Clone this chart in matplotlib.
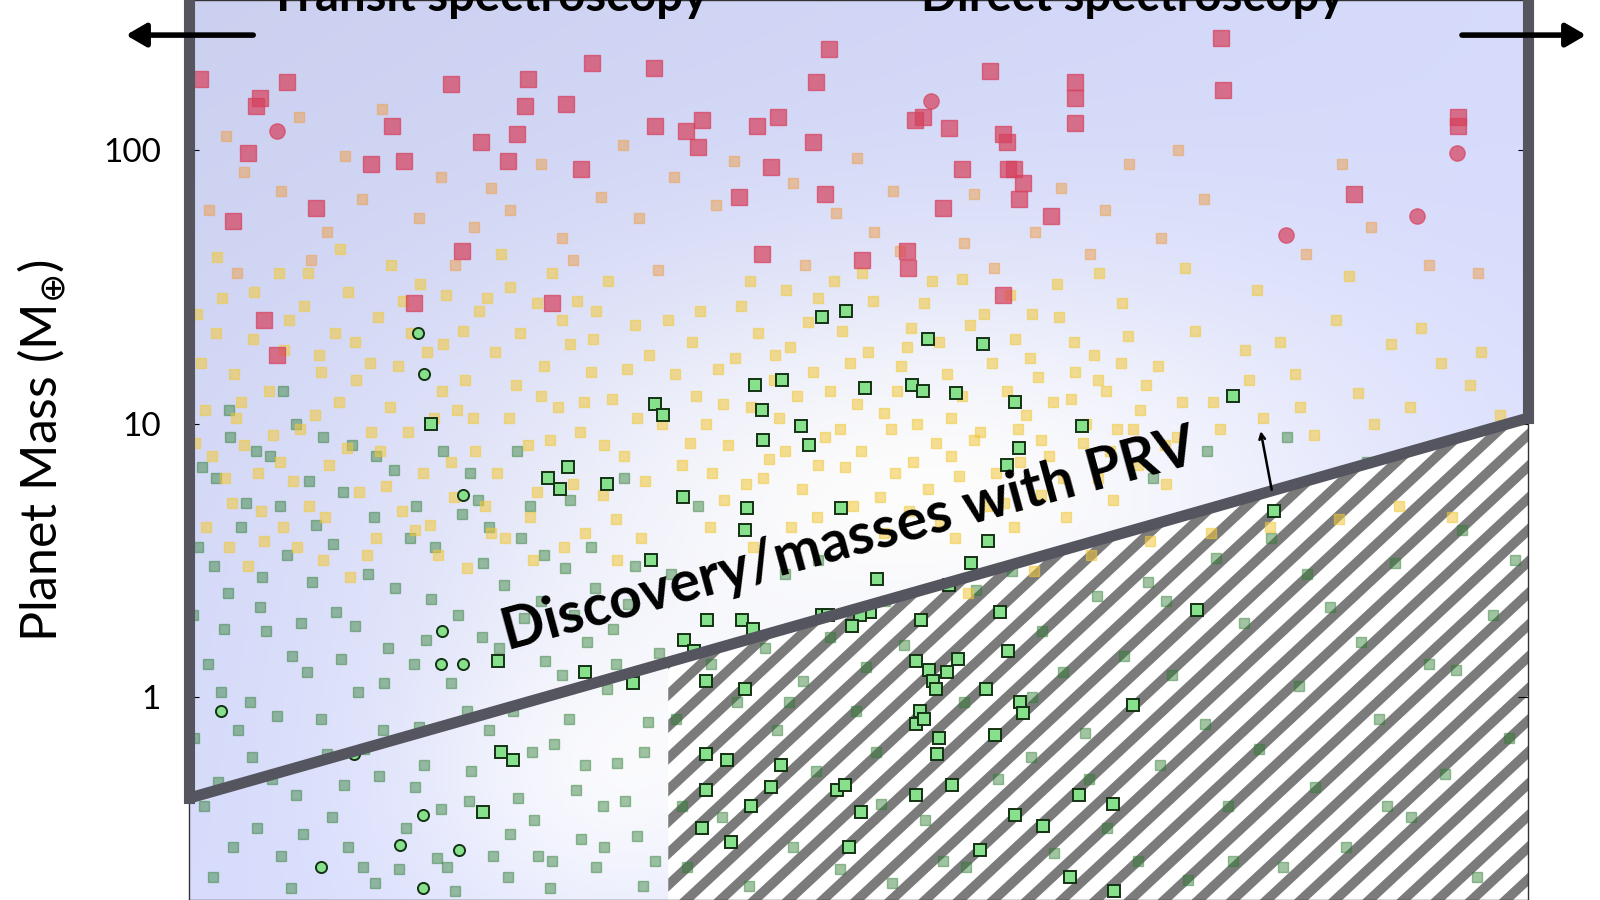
import numpy as np
import matplotlib
matplotlib.use("Agg")
import matplotlib.pyplot as plt
from matplotlib.patches import Polygon
from matplotlib.lines import Line2D

plt.rcParams['font.family'] = ['Lato', 'DejaVu Sans']

# x: arbitrary horizontal coordinate (0-100), y: log10 planet mass (Earth masses)
green_box = [(34.8,1.07),(35.4,1.03),(42.3,1.14),(44.3,1.16),(42.8,1.05),(42.9,0.94),(45.7,0.99),(46.3,0.92),
 (50.5,1.13),(54.0,1.14),(54.8,1.12),(57.3,1.11),(55.2,1.31),(59.3,1.29),(47.3,1.39),(49.1,1.41),(61.7,1.08),
 (62.0,0.91),(61.1,0.85),(66.7,0.99),(78.0,1.10),(81.0,0.68),(48.7,0.69),(41.7,0.69),(41.5,0.61),(36.9,0.73),
 (31.2,0.78),(28.3,0.84),(26.8,0.80),(27.7,0.76),(18.1,1.00),(34.5,0.50),(59.7,0.57),(58.4,0.49),(56.8,0.41),
 (51.4,0.43),(50.9,0.31),(50.1,0.30),(49.5,0.26),(47.3,0.30),(47.7,0.30),(38.7,0.28),(41.3,0.28),(42.1,0.25),
 (37.0,0.21),(37.7,0.17),(29.6,0.09),(33.2,0.05),(23.1,0.13),(60.6,0.31),(75.3,0.32),(54.7,0.28),(54.3,0.13),
 (57.4,0.14),(56.6,0.09),(55.3,0.10),(55.6,0.06),(55.8,0.03),(59.5,0.03),(61.2,0.17),(62.1,-0.02),(62.3,-0.06),
 (54.6,-0.05),(54.3,-0.10),(54.9,-0.08),(56.0,-0.15),(55.9,-0.21),(60.2,-0.14),(57.0,-0.32),(54.3,-0.36),
 (70.5,-0.03),(66.5,-0.36),(69.0,-0.39),(61.7,-0.43),(63.8,-0.47),(59.1,-0.56),(65.8,-0.66),(69.1,-0.71),
 (49.3,-0.55),(40.5,-0.53),(38.3,-0.48),(42.0,-0.40),(43.5,-0.33),(44.2,-0.25),(40.2,-0.23),(38.6,-0.21),
 (38.6,-0.34),(38.6,0.06),(41.5,0.03),(48.4,-0.34),(49.0,-0.32),(50.2,-0.42),(23.3,-0.20),(24.2,-0.23),(22.0,-0.42)]
green_circ = [(17.1,1.33),(17.6,1.18),(20.5,0.74),(18.9,0.24),(18.8,0.12),(20.5,0.12),(2.4,-0.05),(12.3,-0.21),
 (17.5,-0.43),(15.8,-0.54),(20.2,-0.56),(9.9,-0.62),(17.5,-0.70)]
red_sq = [(0.8,2.26),(5.3,2.19),(5.0,2.16),(7.3,2.25),(4.4,1.99),(3.3,1.74),(5.6,1.38),(6.6,1.25),(15.2,2.09),
 (13.6,1.95),(16.1,1.96),(19.6,2.24),(21.8,2.03),(23.8,1.96),(24.5,2.06),(25.3,2.26),(25.1,2.16),(28.2,2.17),
 (30.1,2.32),(29.3,1.93),(34.7,2.30),(34.8,2.09),(37.1,2.07),(38.0,2.01),(38.3,2.11),(42.4,2.09),(44.0,2.12),
 (43.5,1.94),(41.1,1.83),(46.8,2.25),(47.8,2.37),(47.5,1.84),(46.6,2.03),(42.8,1.62),(50.3,1.60),(53.6,1.63),
 (53.7,1.57),(54.2,2.11),(54.8,2.12),(56.3,1.79),(56.8,2.08),(57.7,1.93),(59.8,2.29),(60.8,2.06),(61.1,2.03),
 (61.2,1.93),(61.6,1.93),(62.0,1.82),(62.3,1.88),(64.4,1.76),(60.8,1.47),(66.2,2.25),(66.2,2.19),(66.2,2.10),
 (77.1,2.41),(77.2,2.22),(87.0,1.84),(94.8,2.12),(94.8,2.09),(9.5,1.79),(16.8,1.44),(20.4,1.63),(27.1,1.44)]
red_circ = [(6.6,2.07),(55.4,2.18),(81.9,1.69),(91.7,1.76),(94.7,1.99)]
orange_sq = [(1.5,1.78),(2.8,2.05),(4.1,1.92),(6.9,1.85),(8.2,2.12),(10.3,1.70),(11.7,1.98),(12.9,1.82),(14.4,2.15),
 (17.2,1.75),(18.8,1.90),(21.3,1.72),(22.6,1.86),(24.0,1.78),(26.3,1.95),(27.9,1.68),(30.8,1.83),(32.4,2.02),
 (33.6,1.75),(36.2,1.90),(39.4,1.80),(40.7,1.96),(45.1,1.88),(48.3,1.77),(49.9,1.97),(51.2,1.70),(52.6,1.85),
 (53.1,1.63),(57.9,1.66),(58.6,1.84),(63.2,1.70),(65.1,1.86),(68.4,1.78),(70.2,1.95),(72.6,1.68),(73.9,2.00),
 (75.8,1.82),(83.4,1.62),(86.1,1.95),(88.3,1.72),(92.6,1.58),(96.3,1.55),(3.6,1.55),(9.1,1.60),(19.9,1.58),
 (28.7,1.60),(35.0,1.56),(46.0,1.58),(60.1,1.57),(67.3,1.62)]
yellow_sq = [(0.9,1.22),(1.7,0.88),(2.5,1.46),(3.2,0.71),(3.9,1.08),(4.8,1.31),(5.6,0.57),(6.3,0.96),(7.1,1.27),
 (7.8,0.79),(8.6,1.43),(9.4,1.03),(10.2,0.66),(10.9,1.33),(11.8,0.91),(12.5,1.16),(13.3,0.52),(14.1,1.39),
 (14.7,0.77),(15.6,1.21),(16.4,0.97),(17.3,1.51),(18.0,0.63),(18.9,1.12),(19.6,0.86),(20.5,1.34),(21.2,1.02),
 (22.1,0.70),(22.9,1.26),(23.6,0.58),(24.4,1.14),(25.3,0.92),(26.0,1.44),(26.8,0.81),(27.6,1.06),(28.5,1.29),
 (29.2,0.97),(30.0,1.19),(30.9,0.74),(31.6,1.09),(32.5,0.88),(33.3,1.36),(34.1,0.79),(2.1,1.61),(6.7,1.55),
 (11.3,1.64),(15.1,1.58),(19.2,1.47),(23.3,1.62),(27.1,1.55),(31.3,1.52),(1.3,0.62),(4.4,0.48),(8.1,0.55),
 (12.0,0.44),(16.9,0.61),(20.8,0.47),(25.7,0.50),(29.6,0.60),(33.8,0.58),(36.3,1.18),(37.4,0.93),(38.2,1.41),
 (39.1,0.82),(39.9,1.07),(40.8,1.24),(41.6,0.78),(42.5,1.33),(43.3,0.87),(44.1,1.02),(44.9,1.28),(45.8,0.76),
 (46.6,1.19),(47.5,0.95),(48.2,1.52),(49.0,0.84),(49.9,1.07),(50.7,1.26),(51.6,0.73),(52.4,0.98),(53.2,1.21),
 (54.1,0.86),(54.9,1.44),(55.8,0.93),(56.6,1.18),(57.5,0.81),(58.3,1.36),(59.1,0.97),(60.0,1.22),(60.9,0.71),
 (61.7,1.31),(62.5,1.03),(63.4,1.17),(64.2,0.88),(65.0,1.39),(65.9,1.09),(66.8,0.93),(67.6,1.25),(68.5,1.12),
 (69.3,0.98),(70.1,1.32),(71.0,1.05),(72.4,1.21),(73.8,0.95),(75.1,1.34),(76.5,1.08),(78.9,1.27),(80.2,1.02),
 (82.6,1.18),(84.0,0.96),(85.7,1.38),(87.3,1.11),(89.8,1.29),(91.2,1.06),(93.5,1.22),(95.7,1.14),(97.9,1.03),
 (38.9,0.62),(42.1,0.55),(46.9,0.66),(51.9,0.60),(56.1,0.64),(59.7,0.70),(63.6,0.74),(67.9,0.80),(44.6,1.49),
 (50.3,1.55),(53.9,1.35),(57.7,1.53),(61.3,1.47),(64.8,1.51),(69.7,1.44),(74.4,1.57),(79.8,1.49),(86.6,1.54),
 (58.2,0.38),(63.1,0.46),(67.4,0.52),(71.8,0.57),(76.3,0.60),(80.7,0.62),(85.9,0.65),(90.4,0.70),(94.3,0.66),
 (3.5,1.02),(9.9,1.19),(13.6,0.97),(17.8,1.26),(21.7,1.41),(26.5,1.21),(30.4,1.41),(35.3,1.00),(37.9,1.10),
 (43.7,1.16),(48.8,1.34),(52.9,1.12),(56.9,1.02),(62.1,0.86),(66.2,1.19),(70.9,0.85),(0.5,0.93),(5.2,0.82)]
yellow_sq2 = [(1.2,1.05),(2.0,1.33),(2.7,0.80),(3.4,1.18),(4.1,0.92),(4.9,1.48),(5.4,0.68),(6.0,1.12),(6.8,0.86),
 (7.5,1.38),(8.3,0.98),(9.0,0.70),(9.7,1.25),(10.5,0.85),(11.2,1.08),(11.9,1.48),(12.7,0.75),(13.5,1.22),
 (14.3,0.90),(15.0,1.06),(15.9,0.68),(16.6,1.33),(17.5,0.82),(18.3,1.02),(19.0,1.29),(19.8,0.73),(20.6,1.16),
 (21.4,0.90),(22.3,1.46),(23.0,0.82),(23.9,1.02),(24.7,1.33),(25.5,0.66),(26.3,1.10),(27.0,0.94),(27.9,1.38),
 (28.7,0.78),(29.5,1.08),(30.2,1.31),(31.0,0.92),(31.9,0.65),(32.7,1.20),(33.5,1.02),(34.4,1.25),(0.6,1.40),
 (3.0,0.55),(7.0,0.62),(10.0,0.50),(14.0,0.58),(18.6,0.52),(22.6,0.60),(28.0,0.55),(32.0,0.50),(36.8,0.85),
 (37.6,1.30),(38.6,1.00),(39.5,1.20),(40.3,0.92),(41.2,1.43),(42.0,1.06),(42.9,0.80),(43.8,1.25),(44.5,0.90),
 (45.4,1.10),(46.2,1.37),(47.0,0.85),(47.9,1.12),(48.6,0.98),(49.4,1.22),(50.2,0.90),(51.1,1.45),(51.9,1.04),
 (52.7,0.82),(53.6,1.28),(54.4,1.00),(55.2,0.76),(56.0,1.30),(56.9,0.88),(57.7,1.10),(58.6,0.94),(59.4,1.40),
 (60.3,0.82),(61.1,1.12),(61.9,0.98),(62.8,1.24),(63.6,0.94),(64.5,1.08),(65.3,0.80),(66.1,1.30),(67.0,1.00),
 (67.9,1.16),(68.8,0.90),(69.6,1.22),(70.5,0.98),(71.5,1.14),(72.9,0.92),(74.2,1.08),(77.0,0.98),(79.2,1.16),
 (81.5,1.30),(83.0,1.06),(88.5,1.00),(92.0,1.35),(96.5,1.26),(40.0,0.72),(45.0,0.62),(49.6,0.70),(53.8,0.68),
 (57.2,0.58),(61.6,0.62),(65.5,0.66),(69.0,0.72),(73.0,0.78),(8.9,1.55),(16.0,1.45),(24.0,1.50),(29.0,1.45),
 (41.9,1.52),(47.0,1.46),(55.5,1.52),(63.0,1.40),(68.0,1.55),(12.4,1.30),(20.0,1.05),(26.0,0.75),(35.8,1.38)]
green_sq = [(0.7,0.55),(1.4,0.12),(2.2,-0.31),(2.9,0.38),(3.7,-0.12),(4.3,0.71),(5.1,-0.48),(5.8,0.24),(6.6,-0.07),
 (7.3,0.52),(8.0,-0.36),(8.8,0.09),(9.5,0.63),(10.3,-0.21),(11.0,0.31),(11.9,-0.55),(12.6,0.02),(13.4,0.45),
 (14.2,-0.29),(14.9,0.18),(15.7,-0.63),(16.5,0.58),(17.2,-0.11),(18.1,0.36),(18.8,-0.41),(19.6,0.05),(20.4,0.67),
 (21.1,-0.27),(21.9,0.22),(22.7,-0.58),(23.5,0.41),(24.2,-0.05),(25.0,0.29),(25.8,-0.45),(26.6,0.13),(27.3,-0.17),
 (28.1,0.47),(28.9,-0.34),(29.7,0.20),(30.4,-0.62),(31.2,0.03),(32.0,-0.24),(32.8,0.34),(33.5,-0.51),(34.3,-0.09),
 (35.1,0.16),(1.0,0.84),(3.1,0.95),(6.1,0.88),(9.0,0.79),(12.2,0.92),(15.3,0.83),(19.0,0.90),(22.4,0.62),
 (25.5,0.70),(1.8,-0.66),(4.7,-0.22),(7.6,-0.70),(10.7,-0.44),(13.9,-0.68),(16.9,-0.33),(19.9,-0.71),(23.8,-0.66),
 (27.0,-0.70),(30.9,-0.40),(33.9,-0.69),(2.6,0.25),(5.5,0.44),(8.4,0.27),(11.4,0.14),(14.6,0.05),(17.7,0.21),
 (20.8,-0.05),(24.6,-0.37),(28.4,-0.08),(31.7,0.25),(0.4,-0.15),(6.9,-0.58),(13.1,-0.19),(18.5,-0.59),(26.1,-0.58),
 (29.3,-0.52),(36.4,-0.08),(37.2,-0.62),(39.0,0.12),(39.8,-0.44),(40.9,-0.02),(41.8,-0.69),(43.0,0.18),(43.9,-0.12),
 (45.1,-0.55),(45.9,0.06),(46.8,-0.27),(47.9,0.22),(48.6,-0.63),(49.8,-0.05),(50.6,0.11),(51.7,-0.39),(52.5,-0.68),
 (53.4,0.19),(55.0,-0.45),(56.3,-0.60),(57.9,-0.02),(58.8,0.39),(60.4,-0.30),(61.5,0.46),(62.9,-0.22),(63.7,0.24),
 (64.6,-0.57),(65.3,0.09),(66.9,-0.13),(67.8,0.37),(68.6,-0.48),(69.8,0.15),(70.9,-0.60),(71.6,0.42),(72.5,-0.25),
 (73.4,0.08),(74.6,-0.67),(75.9,-0.10),(76.7,0.51),(77.6,-0.40),(78.8,0.27),(79.9,-0.19),(80.8,0.58),(81.7,-0.62),
 (82.9,0.04),(84.1,-0.33),(85.2,0.33),(86.4,-0.55),(87.5,0.20),(88.9,-0.08),(90.1,0.49),(91.3,-0.44),(92.6,0.12),
 (93.8,-0.28),(95.1,0.61),(96.2,-0.66),(97.4,0.30),(98.6,-0.15),(76.0,0.90),(82.0,0.95),(88.0,0.86),(72.0,0.80),
 (47.0,0.50),(44.5,0.45),(52.0,0.35),(36.0,0.45),(38.0,0.70),(30.0,0.55),(26.5,0.52),(22.0,0.49)]
green_sq2 = [(0.3,0.30),(1.1,-0.40),(1.9,0.48),(2.4,0.02),(3.3,-0.55),(3.9,0.62),(4.6,-0.02),(5.3,0.33),(6.2,-0.30),
 (6.8,0.70),(7.7,0.15),(8.5,-0.50),(9.2,0.42),(9.9,-0.08),(10.8,0.56),(11.6,-0.32),(12.4,0.26),(13.0,-0.62),
 (13.8,0.66),(14.5,-0.12),(15.4,0.40),(16.2,-0.48),(16.8,0.12),(17.6,-0.25),(18.4,0.55),(19.3,-0.62),(20.1,0.30),
 (20.9,-0.38),(21.6,0.72),(22.4,-0.12),(23.2,0.18),(24.0,-0.50),(24.8,0.58),(25.6,-0.20),(26.3,0.35),(27.1,-0.60),
 (27.9,0.08),(28.8,0.30),(29.6,-0.25),(30.3,0.40),(31.0,-0.55),(31.9,0.12),(32.6,-0.38),(33.3,0.48),(34.0,-0.20),
 (34.8,-0.60),(2.0,0.80),(5.0,0.90),(8.0,1.00),(11.5,0.75),(14.0,0.88),(17.0,0.70),(21.0,0.82),(24.5,0.90),
 (28.5,0.72),(32.5,0.80),(3.0,1.05),(7.0,1.12),(10.0,0.95),(36.8,-0.40),(44.8,-0.02),(51.3,-0.20),(58.0,-0.62),
 (63.0,0.00),(67.2,-0.30),(73.0,0.35),(78.0,-0.60),(83.5,0.45),(89.5,-0.40),(94.6,0.10),(99.0,0.50)]

MIN_M, MAX_M = 0.181, 354.0
line_x = [0, 100]
line_logm = [-0.37, 1.02]
hatch_x0 = 35.8

def unz(pts):
    a = np.array(pts, float)
    return a[:, 0], 10 ** a[:, 1]

fig = plt.figure(figsize=(16, 9), dpi=100)
ax = fig.add_axes([0.118, 0.0, 0.837, 1.0])
ax.set_xlim(0, 100)
ax.set_yscale('log')
ax.set_ylim(MIN_M, MAX_M)

# background gradient
gx, gy = np.meshgrid(np.linspace(0, 1, 300), np.linspace(0, 1, 200))
white = np.exp(-((gx - 0.55) ** 2 / 0.12 + (gy - 0.45) ** 2 / 0.07))
white = np.clip(white + 0.75 * np.exp(-((gx - 0.32) ** 2 / 0.03 + (gy - 0.12) ** 2 / 0.04)), 0, 1)
lav = np.array([0.84, 0.86, 0.99])
img = lav[None, None, :] * (1 - white[..., None]) + white[..., None] * 1.0
img = img * (1 - 0.05 * gy[..., None] * (1 - gx[..., None]))
ax.imshow(np.clip(img, 0, 1), extent=[0, 1, 0, 1], transform=ax.transAxes, origin='lower', aspect='auto', zorder=0)

# hatched region
lm = lambda x: 10 ** (np.interp(x, line_x, line_logm))
poly = Polygon([(hatch_x0, lm(hatch_x0)), (100, lm(100)), (100, MIN_M), (hatch_x0, MIN_M)],
               closed=True, facecolor='white', edgecolor='none', zorder=1)
ax.add_patch(poly)
ratio = 1312 / 882 * 0.93
for c in np.arange(-2.0, 1.2, 0.0255):
    ln = Line2D([c, c + 1.0], [0, ratio], transform=ax.transAxes, color='#7b7b7b', lw=7, zorder=1.5)
    ln.set_clip_path(poly)
    ax.add_line(ln)

kw = dict(marker='s', linestyle='none')
for g in (green_sq, green_sq2):
    x, y = unz(g); ax.plot(x, y, ms=6.5, color='#2e7d32', alpha=0.45, zorder=2, **kw)
for g in (yellow_sq, yellow_sq2):
    x, y = unz(g); ax.plot(x, y, ms=7.5, color='#f2c83a', alpha=0.55, zorder=2, **kw)
x, y = unz(orange_sq); ax.plot(x, y, ms=7.5, color='#ee9f4a', alpha=0.5, zorder=2, **kw)
x, y = unz(red_sq); ax.plot(x, y, ms=11, color='#d6405c', alpha=0.7, zorder=3, **kw)
x, y = unz(red_circ); ax.plot(x, y, 'o', ms=11, color='#d6405c', alpha=0.7, zorder=3)
x, y = unz(green_box); ax.plot(x, y, ms=8, mfc='#86e08c', mec='#143214', mew=1.4, zorder=4, **kw)
x, y = unz(green_circ); ax.plot(x, y, 'o', ms=8, mfc='#86e08c', mec='#143214', mew=1.4, zorder=4)

# boundary
lc = '#55555f'
ax.plot(line_x, 10 ** np.array(line_logm), color=lc, lw=8, solid_capstyle='butt', zorder=5)
ax.plot([0, 0], [10 ** line_logm[0], MAX_M], color=lc, lw=8, zorder=5, clip_on=False)
ax.plot([100, 100], [10 ** line_logm[1], MAX_M], color=lc, lw=8, zorder=5, clip_on=False)

ax.text(49.3, 3.75, 'Discovery/masses with PRV', rotation=15.2, ha='center', va='center',
        fontsize=41, fontweight='bold', color='black', zorder=6, rotation_mode='anchor')
ax.annotate('', xy=(80.0, 9.6), xytext=(80.9, 5.6),
            arrowprops=dict(arrowstyle='->', color='black', lw=1.8), zorder=6)

ax.set_yticks([1, 10, 100])
ax.set_yticklabels(['1', '10', '100'], fontsize=24)
ax.yaxis.set_minor_locator(matplotlib.ticker.NullLocator())
ax.set_xticks([])
ax.tick_params(axis='y', direction='in', length=7, pad=20, right=True)
for s in ax.spines.values():
    s.set_color('#333333'); s.set_linewidth(1)
ax.set_ylabel('Planet Mass (M$_{\\oplus}$)', fontsize=36, labelpad=25)

fig.text(0.305, 0.988, 'Transit spectroscopy', ha='center', va='baseline', fontsize=34, fontweight='bold')
fig.text(0.708, 0.988, 'Direct spectroscopy', ha='center', va='baseline', fontsize=34, fontweight='bold')
fig.add_artist(matplotlib.patches.FancyArrowPatch((0.160, 0.961), (0.077, 0.961), transform=fig.transFigure,
               arrowstyle='-|>,head_length=12,head_width=7', color='black', lw=4))
fig.add_artist(matplotlib.patches.FancyArrowPatch((0.912, 0.961), (0.993, 0.961), transform=fig.transFigure,
               arrowstyle='-|>,head_length=12,head_width=7', color='black', lw=4))

fig.savefig('out.png', dpi=100)
